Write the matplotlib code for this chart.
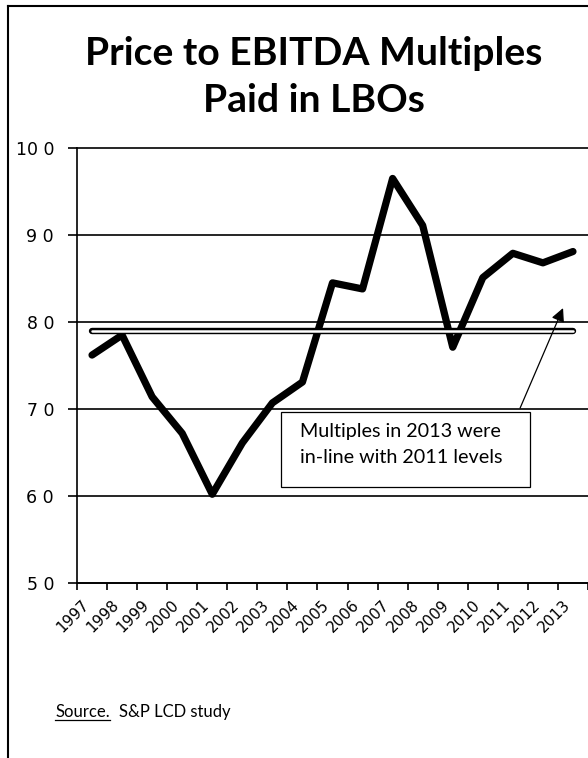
import numpy as np
from matplotlib import pyplot as plt
from matplotlib.lines import Line2D
from matplotlib.patches import Rectangle

years = ["1997", "1998", "1999", "2000", "2001", "2002", "2003", "2004", "2005",
         "2006", "2007", "2008", "2009", "2010", "2011", "2012", "2013"]
multiples = [7.62, 7.85, 7.14, 6.72, 6.02, 6.61, 7.07, 7.31, 8.45,
             8.38, 9.65, 9.11, 7.71, 8.51, 8.79, 8.68, 8.81]
level_2011 = 7.9
y_ticks = [5, 6, 7, 8, 9, 10]
y_labels = ["5 0", "6 0", "7 0", "8 0", "9 0", "10 0"]

title_lines = ["Price to EBITDA Multiples", "Paid in LBOs"]
note_lines = ["Multiples in 2013 were", "in-line with 2011 levels"]
source_label = "Source."
source_text = "S&P LCD study"

W, H = 588, 758


def fx(px):
    return px / W


def fy(py):
    return 1 - py / H


def fit_width(txt, target_px, renderer):
    # scale the font so the text is as wide as in the picture
    w = txt.get_window_extent(renderer).width
    txt.set_fontsize(txt.get_fontsize() * target_px / w)


def main():
    fig = plt.figure(figsize=(W / 100, H / 100), dpi=100)
    renderer = fig.canvas.get_renderer()

    ax = fig.add_axes([fx(77), fy(583), 511 / W, 435 / H])
    x = np.arange(len(years))

    ax.plot(x, multiples, color="black", lw=5.2, solid_joinstyle="round",
            solid_capstyle="round", zorder=3)

    # hollow reference line
    ax.plot([x[0], x[-1]], [level_2011, level_2011], color="black", lw=4.6,
            solid_capstyle="round", zorder=4)
    ax.plot([x[0], x[-1]], [level_2011, level_2011], color="white", lw=1.8,
            solid_capstyle="round", zorder=5)

    ax.set_xlim(-0.5, len(years) - 0.5)
    ax.set_ylim(5, 10)

    ax.set_xticks(x, years, rotation=45, ha="right", fontsize=11,
                  family="DejaVu Sans")
    ax.set_xticks(np.arange(-0.5, len(years), 1), minor=True)
    ax.tick_params(axis="x", which="major", length=0, pad=10)
    ax.tick_params(axis="x", which="minor", length=5, width=1.2,
                   direction="out")

    ax.set_yticks(y_ticks, y_labels, fontsize=12.5, family="DejaVu Sans")
    ax.tick_params(axis="y", length=6.5, width=1.2, direction="out", pad=10)

    ax.grid(axis="y", color="black", lw=1.2)
    for gl in ax.get_ygridlines():
        gl.set_clip_on(False)
    ax.set_axisbelow(True)

    for side in ["top", "right"]:
        ax.spines[side].set_visible(False)
    for side in ["left", "bottom"]:
        ax.spines[side].set_linewidth(1.2)
        ax.spines[side].set_color("black")

    # note box and arrow
    ax.add_patch(Rectangle((6.29, 6.10), 8.28, 0.87, facecolor="white",
                           edgecolor="black", lw=0.9, zorder=6))
    t1 = ax.text(6.92, 6.68, note_lines[0], family="Lato", fontsize=12,
                 va="baseline", zorder=7)
    t2 = ax.text(6.92, 6.38, note_lines[1], family="Lato", fontsize=12,
                 va="baseline", zorder=7)
    fit_width(t1, 200, renderer)
    t2.set_fontsize(t1.get_fontsize())

    ax.annotate("", xy=(15.67, 8.16), xytext=(14.24, 7.01),
                arrowprops=dict(arrowstyle="-|>", color="black", lw=0.9,
                                mutation_scale=20, shrinkA=0, shrinkB=0),
                zorder=7)

    # title
    t = fig.text(fx(314), fy(65), title_lines[0], ha="center", va="baseline",
                 family="Lato", weight="bold", fontsize=28)
    fit_width(t, 457, renderer)
    fig.text(fx(314), fy(112), title_lines[1], ha="center", va="baseline",
             family="Lato", weight="bold", fontsize=t.get_fontsize())

    # source line with underlined label
    s1 = fig.text(fx(55), fy(717), source_label, va="baseline", family="Lato",
                  fontsize=12)
    bb = s1.get_window_extent(renderer)
    fig.text((bb.x1 + 9) / W, fy(717), source_text, va="baseline",
             family="Lato", fontsize=12)
    fig.add_artist(Line2D([bb.x0 / W, bb.x1 / W], [fy(720), fy(720)],
                          color="black", lw=0.9, transform=fig.transFigure))

    # frame around the chart
    fig.add_artist(Line2D([fx(7.5), fx(7.5)], [0, fy(6)], color="black",
                          lw=1.5, transform=fig.transFigure))
    fig.add_artist(Line2D([fx(7.5), 1], [fy(6), fy(6)], color="black",
                          lw=1.5, transform=fig.transFigure))

    fig.savefig("out.png", dpi=100)


if __name__ == '__main__':
    main()
